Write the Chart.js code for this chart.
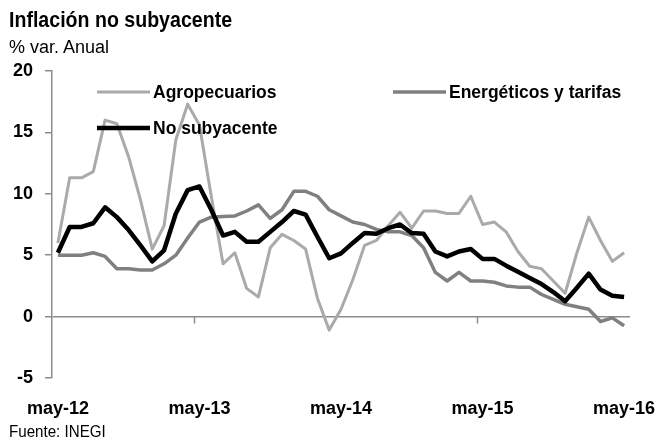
<!DOCTYPE html>
<html>
<head>
<meta charset="utf-8">
<script src="https://cdn.jsdelivr.net/npm/chart.js@4.4.0/dist/chart.umd.min.js"></script>
<style>
  html, body { margin: 0; padding: 0; background: #fff; }
  #wrap { position: relative; width: 658px; height: 441px; font-family: 'Liberation Sans Narrow', 'Arial Narrow', 'Liberation Sans', Arial, sans-serif; color: #000; }
  #wrap canvas { position: absolute; left: 0; top: 0; }
  .txt { position: absolute; line-height: 1; white-space: nowrap; transform-origin: 0 0; }
  .title { left: 9px; top: 9px; font-size: 22px; font-weight: bold; transform: scaleX(0.89); }
  .sub { left: 9px; top: 38px; font-size: 18px; }
  .src { left: 9px; top: 423px; font-size: 17px; transform: scaleX(0.89); }
</style>
</head>
<body>
<div id="wrap">
  <canvas id="chart" width="658" height="441"></canvas>
  <div class="txt title">Inflación no subyacente</div>
  <div class="txt sub">% var. Anual</div>
  <div class="txt src">Fuente: INEGI</div>
</div>
<script>
const FONT = "'Liberation Sans Narrow', 'Arial Narrow', 'Liberation Sans', Arial, sans-serif";

// months, may-12 .. may-16
const months = [
  'may-12','jun-12','jul-12','ago-12','sep-12','oct-12','nov-12','dic-12',
  'ene-13','feb-13','mar-13','abr-13','may-13','jun-13','jul-13','ago-13','sep-13','oct-13','nov-13','dic-13',
  'ene-14','feb-14','mar-14','abr-14','may-14','jun-14','jul-14','ago-14','sep-14','oct-14','nov-14','dic-14',
  'ene-15','feb-15','mar-15','abr-15','may-15','jun-15','jul-15','ago-15','sep-15','oct-15','nov-15','dic-15',
  'ene-16','feb-16','mar-16','abr-16','may-16'
];

const agropecuarios = [
  6.0, 11.3, 11.3, 11.8, 16.0, 15.7, 13.0, 9.5, 5.5, 7.4, 14.4, 17.3, 15.6, 9.8, 4.3, 5.2,
  2.3, 1.6, 5.6, 6.7, 6.2, 5.5, 1.5, -1.1, 0.6, 3.0, 5.8, 6.2, 7.4, 8.5, 7.2, 8.6,
  8.6, 8.4, 8.4, 9.8, 7.5, 7.7, 6.9, 5.3, 4.1, 3.9, 2.9, 1.9, 5.2, 8.1, 6.2, 4.5, 5.2
];

const energeticos = [
  5.0, 5.0, 5.0, 5.2, 4.9, 3.9, 3.9, 3.8, 3.8, 4.3, 5.0, 6.4, 7.7, 8.1, 8.15, 8.2,
  8.6, 9.1, 8.0, 8.7, 10.2, 10.2, 9.8, 8.7, 8.2, 7.7, 7.5, 7.1, 6.9, 6.9, 6.6, 5.6,
  3.6, 2.9, 3.6, 2.9, 2.9, 2.8, 2.5, 2.4, 2.4, 1.8, 1.4, 1.0, 0.8, 0.6, -0.4, -0.1, -0.75
];

const noSubyacente = [
  5.2, 7.3, 7.3, 7.6, 8.9, 8.1, 7.05, 5.8, 4.5, 5.4, 8.4, 10.3, 10.6, 8.7, 6.6, 6.9,
  6.1, 6.1, 6.9, 7.7, 8.6, 8.3, 6.5, 4.75, 5.15, 6.0, 6.8, 6.75, 7.2, 7.5, 6.8, 6.75,
  5.3, 4.9, 5.3, 5.5, 4.7, 4.7, 4.15, 3.65, 3.15, 2.65, 2.0, 1.25, 2.35, 3.5, 2.2, 1.7, 1.6
];

const yTicks = [-5, 0, 5, 10, 15, 20];

// legend drawn inside the plot, like the original
const legendSpots = [
  { ds: 0, x: 97, y: 92 },
  { ds: 1, x: 393, y: 92 },
  { ds: 2, x: 97, y: 128 }
];

const insideLegend = {
  id: 'insideLegend',
  afterDraw(chart) {
    const c = chart.ctx;
    c.save();
    legendSpots.forEach(s => {
      const d = chart.data.datasets[s.ds];
      c.strokeStyle = d.borderColor;
      c.lineWidth = d.borderWidth;
      c.beginPath();
      c.moveTo(s.x, s.y);
      c.lineTo(s.x + 53, s.y);
      c.stroke();
      c.fillStyle = '#000';
      c.font = 'bold 17.5px ' + FONT;
      c.textBaseline = 'middle';
      c.fillText(d.label, s.x + 56, s.y + 1);
    });
    c.restore();
  }
};

// small tick marks on the zero line, every two years
const zeroTicks = {
  id: 'zeroTicks',
  beforeDatasetsDraw(chart) {
    const x = chart.scales.x, y = chart.scales.y;
    const y0 = y.getPixelForValue(0);
    const step = x.getPixelForValue(1) - x.getPixelForValue(0);
    const c = chart.ctx;
    c.save();
    c.strokeStyle = '#8c8c8c';
    c.lineWidth = 1.5;
    [12, 36].forEach(i => {
      const px = Math.round(x.getPixelForValue(i) - step / 2) + 0.5;
      c.beginPath();
      c.moveTo(px, y0);
      c.lineTo(px, y0 + 7);
      c.stroke();
    });
    c.restore();
  }
};

new Chart(document.getElementById('chart'), {
  type: 'line',
  data: {
    labels: months,
    datasets: [
      { label: 'Agropecuarios', data: agropecuarios, borderColor: '#aaaaaa', borderWidth: 3, order: 2 },
      { label: 'Energéticos y tarifas', data: energeticos, borderColor: '#808080', borderWidth: 3.5, order: 1 },
      { label: 'No subyacente', data: noSubyacente, borderColor: '#000000', borderWidth: 4.5, order: 0 }
    ]
  },
  options: {
    responsive: false,
    animation: false,
    events: [],
    elements: {
      point: { radius: 0 },
      line: { tension: 0, borderJoinStyle: 'round', borderCapStyle: 'butt' }
    },
    layout: { padding: { top: 71, right: 28, left: 0, bottom: 0 } },
    plugins: {
      legend: { display: false },
      tooltip: { enabled: false }
    },
    scales: {
      x: {
        offset: true,
        grid: { display: false },
        border: { display: false },
        ticks: {
          autoSkip: false,
          maxRotation: 0,
          padding: 12,
          color: '#000',
          font: { family: FONT, size: 18, weight: 'bold' },
          callback: (v, i) => (i % 12 === 0 ? months[i] : '')
        },
        afterFit: s => { s.height = 63; s.paddingLeft = 0; s.paddingRight = 0; }
      },
      y: {
        min: -5,
        max: 20,
        afterBuildTicks: s => { s.ticks = yTicks.map(v => ({ value: v })); },
        grid: {
          color: ctx => (ctx.tick && ctx.tick.value === 0 ? '#8c8c8c' : 'rgba(0,0,0,0)'),
          lineWidth: 1.5,
          tickColor: '#8c8c8c',
          tickLength: 7
        },
        border: { color: '#8c8c8c', width: 1.5 },
        ticks: {
          padding: 12,
          color: '#000',
          font: { family: FONT, size: 18, weight: 'bold' }
        },
        afterFit: s => { s.width = 52; }
      }
    }
  },
  plugins: [zeroTicks, insideLegend]
});
</script>
</body>
</html>
